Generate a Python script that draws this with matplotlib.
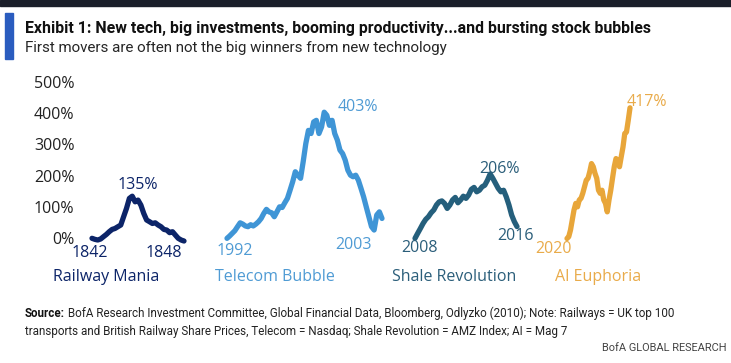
import matplotlib
matplotlib.use("Agg")
import matplotlib.pyplot as plt
import numpy as np
from matplotlib.patches import Rectangle

W, H = 731, 363

# values, % change from start
railway = [0.6, -2.7, -4.8, -1.6, 5.8, 13, 21.7, 29, 32, 37.6, 43, 69.6, 96, 128, 135,
           117, 122.6, 106.7, 80, 59, 53.6, 48, 50, 43, 37.6, 29, 27, 18.6, 21.7, 11,
           0.6, -4.8, -8]
telecom = [0.5, 8, 16.5, 25, 37.7, 50, 46, 40, 37.7, 44, 40, 46, 53.6, 64, 80, 93, 85,
           82, 69.5, 85, 101, 99, 114, 128, 154, 181, 213, 202, 192, 245, 303, 345, 335,
           372, 377, 335, 356, 403, 393, 361, 377, 335, 314, 282, 271, 250, 218, 202,
           197, 202, 186, 160, 133, 101, 69.5, 38, 27, 75, 85, 64]
shale = [0.5, 16.5, 32, 48, 61, 69.5, 82, 91, 107, 117, 120, 112, 96, 107, 123, 131,
         114, 123, 135, 128, 139, 157, 163, 149, 154, 165, 170, 186, 206, 192, 176, 160,
         149, 154, 133, 107, 75, 54, 38]
ai = [0, 5.8, 27, 59, 91, 112, 101, 123, 128, 144, 165, 186, 192, 213, 239, 229, 208,
      192, 154, 144, 154, 123, 112, 85, 123, 154, 192, 229, 255, 250, 229, 261, 292,
      335, 340, 377, 417]

series = [railway, telecom, shale, ai]
names = ["Railway Mania", "Telecom Bubble", "Shale Revolution", "AI Euphoria"]
start_years = ["1842", "1992", "2008", "2020"]
end_years = ["1848", "2003", "2016", None]
peaks = [135, 403, 206, 417]
yticks = [0, 100, 200, 300, 400, 500]

colors = ["#0c2468", "#3f95d6", "#255f7c", "#e8a63a"]
text_colors = ["#0c2468", "#4f9bd4", "#2b5e7a", "#e9ab4a"]

# layout (pixels)
spans = [(92, 184), (227, 382), (415, 517), (567, 630)]
peak_xy = [(138, 189), (358, 111), (499, 173), (647, 106)]
start_xy = [(90, 257), (235, 255), (419, 252), (554, 253)]
end_xy = [(164, 257), (354, 249), (515, 240), None]
name_x = [53, 215, 392, 555]
NAME_Y = 281

num_font = ["Open Sans", "DejaVu Sans"]
narrow = ["Roboto", "DejaVu Sans"]

fig = plt.figure(figsize=(W / 100, H / 100), dpi=100)
fig.patch.set_facecolor("white")
renderer = fig.canvas.get_renderer()


def fx(x):
    return x / W


def fy(y):
    return 1 - y / H


def fit(texts, width):
    # shrink/grow a group of texts so they span `width` pixels together
    total = sum(t.get_window_extent(renderer).width for t in texts)
    for t in texts:
        t.set_fontsize(t.get_fontsize() * width / total)


# top dark band and blue marker
fig.patches.append(Rectangle((0, fy(6)), 1, 6 / H, transform=fig.transFigure,
                             color="#1b1f2a", zorder=0))
fig.patches.append(Rectangle((fx(5), fy(59)), 8 / W, 46 / H, transform=fig.transFigure,
                             color="#2a5cbf", zorder=0))

title = fig.text(fx(25), fy(28), "Exhibit 1: New tech, big investments, booming productivity...and bursting stock bubbles",
                 family=narrow, weight="bold", fontsize=12, color="#111111", va="center")
fit([title], 624)
sub = fig.text(fx(25), fy(48), "First movers are often not the big winners from new technology",
               family=narrow, fontsize=12, color="#262626", va="center")
fit([sub], 423)

# chart axes: y = 0 at pixel 238.5, 0.3134 px per %
y0, k = 238.5, 0.3134
ylo, yhi = -30, 520
bot = y0 - ylo * k
top = y0 - yhi * k
ax = fig.add_axes([fx(80), fy(bot), fx(700) - fx(80), (bot - top) / H])
ax.set_xlim(80, 700)
ax.set_ylim(ylo, yhi)
for s in ax.spines.values():
    s.set_visible(False)
ax.set_xticks([])
ax.set_yticks(yticks)
ax.set_yticklabels([f"{v}%" for v in yticks], family=num_font, fontsize=11.5, color="#222222")
ax.tick_params(axis="y", length=0, pad=4)
ax.patch.set_alpha(0)

for vals, (a, b), c in zip(series, spans, colors):
    x = np.linspace(a, b, len(vals))
    ax.plot(x, vals, color=c, lw=3.8, solid_capstyle="round", solid_joinstyle="round", clip_on=False)

for i in range(4):
    tc = text_colors[i]
    px, py = peak_xy[i]
    fig.text(fx(px), fy(py), f"{peaks[i]}%", family=num_font, fontsize=11.5, color=tc,
             ha="center", va="baseline")
    px, py = start_xy[i]
    fig.text(fx(px), fy(py), start_years[i], family=num_font, fontsize=11.5, color=tc,
             ha="center", va="baseline")
    if end_years[i]:
        px, py = end_xy[i]
        fig.text(fx(px), fy(py), end_years[i], family=num_font, fontsize=11.5, color=tc,
                 ha="center", va="baseline")
    fig.text(fx(name_x[i]), fy(NAME_Y), names[i], family=num_font, fontsize=11.5, color=tc,
             ha="left", va="baseline")

# footer
src = fig.text(fx(25), fy(317), "Source:", family=narrow, weight="bold", fontsize=10,
               color="#111111", va="baseline")
src_rest = fig.text(fx(25), fy(317), " BofA Research Investment Committee, Global Financial Data, Bloomberg, Odlyzko (2010); Note: Railways = UK top 100",
                    family=narrow, fontsize=10, color="#222222", va="baseline")
fit([src, src_rest], 653)
src_rest.set_x(fx(25 + src.get_window_extent(renderer).width))
line2 = fig.text(fx(25), fy(335), "transports and British Railway Share Prices, Telecom = Nasdaq; Shale Revolution = AMZ Index; AI = Mag 7",
                 family=narrow, fontsize=src_rest.get_fontsize(), color="#222222", va="baseline")
brand = fig.text(fx(727), fy(351), "BofA GLOBAL RESEARCH", family=narrow, fontsize=10,
                 color="#444444", va="baseline", ha="right")
fit([brand], 125)

fig.savefig("out.png", dpi=100)
